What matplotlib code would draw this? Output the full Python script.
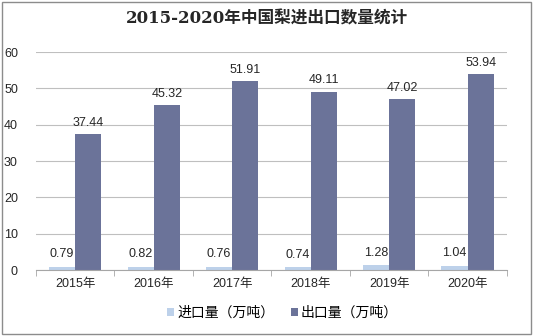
import matplotlib.pyplot as plt
import numpy as np
from matplotlib.patches import Rectangle

plt.rcParams['font.family'] = ['Liberation Sans', 'Noto Sans CJK SC']

years = ['2015年', '2016年', '2017年', '2018年', '2019年', '2020年']
imports = [0.79, 0.82, 0.76, 0.74, 1.28, 1.04]
exports = [37.44, 45.32, 51.91, 49.11, 47.02, 53.94]

c_imp = '#bdd1ea'
c_exp = '#6b7399'

fig = plt.figure(figsize=(5.33, 3.36), dpi=100)
ax = fig.add_axes([0.0675, 0.196, 0.8835, 0.649])

x = np.arange(len(years))
w = 1 / 3
b1 = ax.bar(x - w / 2, imports, w, color=c_imp, label='进口量（万吨）')
b2 = ax.bar(x + w / 2, exports, w, color=c_exp, label='出口量（万吨）')

for rect, v in zip(b1, imports):
    ax.annotate(f'{v:.2f}', (rect.get_x() + rect.get_width() / 2, v),
                xytext=(0, 5), textcoords='offset points', ha='center', va='bottom',
                fontsize=9, color='#262626')
for rect, v in zip(b2, exports):
    ax.annotate(f'{v:.2f}', (rect.get_x() + rect.get_width() / 2, v),
                xytext=(0, 4), textcoords='offset points', ha='center', va='bottom',
                fontsize=9, color='#262626')

ax.set_xlim(-0.5, len(years) - 0.5)
ax.set_ylim(0, 60)
ax.set_yticks(range(0, 61, 10))
ax.yaxis.grid(True, color='#bfbfbf', linewidth=0.8)
ax.set_axisbelow(True)
for s in ['top', 'right', 'left']:
    ax.spines[s].set_visible(False)
ax.spines['bottom'].set_color('#a6a6a6')

ax.set_xticks(x)
ax.set_xticklabels(years, fontsize=9, color='#262626')
ax.set_xticks(np.arange(-0.5, len(years)), minor=True)
ax.tick_params(axis='x', which='major', length=0, pad=6)
ax.tick_params(axis='x', which='minor', length=4, color='#a6a6a6')
ax.tick_params(axis='y', length=0, labelsize=9, labelcolor='#262626', pad=13)

fig.text(0.5, 0.945, '2015-2020年中国梨进出口数量统计', ha='center', va='center',
         fontsize=12, fontweight='bold', color='#262626',
         family=['DejaVu Serif', 'Noto Sans CJK SC'])

fig.legend(loc='center', bbox_to_anchor=(0.53, 0.068), ncol=2, frameon=False,
           fontsize=10, handlelength=0.5, handleheight=0.5, handletextpad=0.2,
           columnspacing=1.2)

fig.patches.append(Rectangle((0.004, 0.006), 0.992, 0.988, transform=fig.transFigure,
                             fill=False, edgecolor='#8c8c8c', linewidth=1))

plt.savefig('out.png', dpi=100)
